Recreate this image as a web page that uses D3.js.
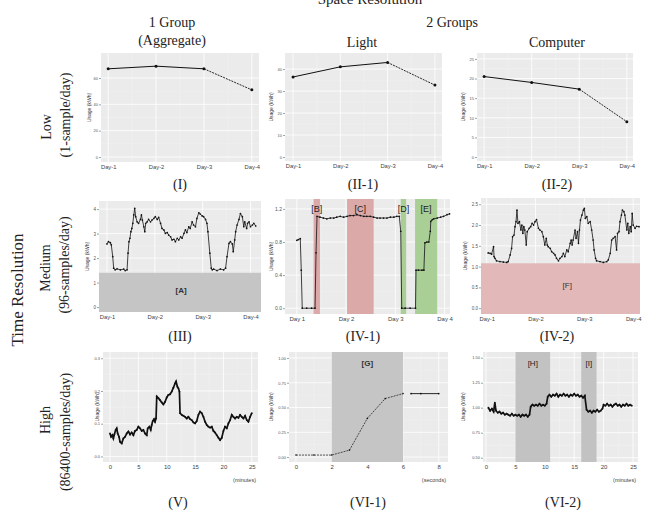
<!DOCTYPE html>
<html>
<head>
<meta charset="utf-8">
<script src="https://cdn.jsdelivr.net/npm/d3@7"></script>
<style>
body { margin: 0; background: #fff; }
text { font-family: "Liberation Serif", "DejaVu Serif", serif; }
.tick-lab { font-family: "Liberation Sans", Arial, sans-serif; fill: #555; }
.band-lab { font-family: "Liberation Sans", Arial, sans-serif; font-weight: bold; fill: #333; }
</style>
</head>
<body>
<div id="fig"></div>
<script>
// ---- data ----
let dayLabels = ["Day-1", "Day-2", "Day-3", "Day-4"];
let dayLabelsSpace = ["Day 1", "Day 2", "Day 3", "Day 4"];

// low resolution, one value per day (kWh)
let aggDaily = [67, 69, 67, 51];
let lightDaily = [36.4, 41, 43, 32.7];
let compDaily = [20.5, 19, 17.3, 9];

// medium resolution [day, kWh]
let aggMedium = [[0,2.58],[0.03,2.67],[0.07,2.63],[0.09,2.54],[0.12,2.06],[0.14,1.59],[0.17,1.52],[0.21,1.56],[0.28,1.52],[0.35,1.55],[0.38,1.49],[0.42,1.52],[0.44,2.2],[0.46,2.67],[0.48,2.81],[0.5,3.08],[0.52,3.21],[0.54,3.42],[0.56,3.76],[0.58,4.03],[0.6,3.69],[0.63,3.48],[0.66,3.42],[0.7,3.58],[0.72,3.76],[0.74,3.55],[0.77,3.28],[0.79,3.08],[0.81,3.42],[0.84,3.48],[0.87,3.58],[0.91,3.48],[0.94,3.55],[0.98,3.62],[1.01,3.69],[1.05,3.58],[1.08,3.66],[1.12,3.42],[1.15,3.21],[1.19,3.15],[1.22,3.01],[1.26,3.04],[1.29,2.94],[1.33,2.87],[1.36,2.74],[1.4,2.77],[1.43,2.67],[1.47,2.81],[1.5,2.74],[1.54,2.87],[1.57,2.81],[1.61,3.01],[1.64,3.15],[1.67,3.04],[1.71,3.28],[1.74,3.21],[1.78,3.48],[1.81,3.35],[1.85,3.28],[1.88,3.62],[1.92,3.85],[1.95,3.8],[1.99,3.72],[2.02,3.69],[2.06,3.58],[2.09,3.42],[2.11,3.08],[2.15,2.2],[2.18,1.59],[2.2,1.52],[2.23,1.55],[2.3,1.49],[2.37,1.55],[2.44,1.52],[2.48,1.59],[2.51,2.06],[2.55,2.6],[2.58,2.67],[2.62,2.58],[2.64,2.26],[2.67,2.74],[2.69,3.08],[2.72,3.35],[2.76,3.58],[2.79,3.82],[2.83,3.69],[2.86,3.28],[2.88,3.48],[2.92,3.21],[2.94,3.42],[2.97,3.48],[3.0,3.28],[3.04,3.35],[3.07,3.42],[3.11,3.31]];

let lightMedium = [[0,0.82],[0.03,0.83],[0.07,0.84],[0.09,0.46],[0.11,0],[0.2,0],[0.3,0],[0.37,0],[0.39,0.67],[0.41,1.11],[0.47,1.1],[0.54,1.09],[0.61,1.08],[0.68,1.09],[0.75,1.09],[0.81,1.1],[0.88,1.11],[0.95,1.1],[1.02,1.11],[1.08,1.12],[1.15,1.12],[1.22,1.13],[1.29,1.12],[1.36,1.11],[1.42,1.11],[1.49,1.11],[1.56,1.1],[1.63,1.09],[1.69,1.09],[1.76,1.09],[1.83,1.09],[1.9,1.1],[1.97,1.1],[2.03,1.11],[2.08,1.11],[2.11,0.93],[2.13,0],[2.2,0],[2.3,0],[2.41,0],[2.42,0.46],[2.47,0.46],[2.54,0.46],[2.58,0.46],[2.6,0.79],[2.64,0.8],[2.68,0.8],[2.71,0.93],[2.72,1.05],[2.75,1.07],[2.78,1.08],[2.85,1.09],[2.92,1.1],[2.98,1.11],[3.05,1.13],[3.1,1.14]];

let compMedium = [[0.03,1.33],[0.07,1.32],[0.1,1.3],[0.14,1.48],[0.15,1.24],[0.17,1.2],[0.2,1.14],[0.27,1.12],[0.34,1.11],[0.41,1.1],[0.44,1.12],[0.48,1.28],[0.51,1.44],[0.53,1.72],[0.56,1.76],[0.58,1.96],[0.6,2.08],[0.62,2.36],[0.64,2.04],[0.67,2.08],[0.7,1.88],[0.72,2.0],[0.74,1.8],[0.76,1.96],[0.78,1.88],[0.81,1.52],[0.83,1.84],[0.87,1.92],[0.9,1.96],[0.93,2.04],[0.96,2.0],[0.99,2.08],[1.02,2.13],[1.06,1.92],[1.09,1.88],[1.13,1.84],[1.16,1.72],[1.19,1.52],[1.22,1.68],[1.24,1.52],[1.26,1.48],[1.3,1.44],[1.33,1.36],[1.37,1.32],[1.4,1.28],[1.43,1.2],[1.47,1.14],[1.5,1.2],[1.54,1.24],[1.57,1.32],[1.6,1.24],[1.64,1.4],[1.67,1.36],[1.71,1.56],[1.73,1.64],[1.75,1.52],[1.77,1.64],[1.81,1.88],[1.83,1.68],[1.86,1.84],[1.88,1.56],[1.9,1.88],[1.92,2.12],[1.95,2.24],[1.98,2.36],[2.0,2.4],[2.02,2.16],[2.05,2.2],[2.08,2.04],[2.12,2.08],[2.15,1.88],[2.18,1.64],[2.2,1.4],[2.23,1.2],[2.25,1.14],[2.32,1.12],[2.39,1.1],[2.46,1.12],[2.49,1.16],[2.53,1.32],[2.56,1.64],[2.59,1.68],[2.63,1.72],[2.66,1.4],[2.68,1.8],[2.71,1.84],[2.73,2.08],[2.76,2.24],[2.78,2.36],[2.81,2.32],[2.83,2.24],[2.87,1.88],[2.89,2.04],[2.91,1.8],[2.94,1.96],[2.96,1.84],[2.98,2.28],[3.0,2.0],[3.04,1.92],[3.07,1.97],[3.12,1.96]];

// high resolution
let aggHigh = [[0,0.07],[0.18,0.06],[0.41,0.065],[0.59,0.055],[0.76,0.067],[1.0,0.081],[1.18,0.086],[1.35,0.07],[1.59,0.06],[1.76,0.045],[2.06,0.04],[2.35,0.055],[2.65,0.06],[2.94,0.07],[3.24,0.076],[3.53,0.067],[3.82,0.073],[4.12,0.065],[4.41,0.078],[4.71,0.081],[5.0,0.091],[5.29,0.086],[5.59,0.078],[5.88,0.081],[6.18,0.07],[6.47,0.065],[6.65,0.086],[6.94,0.091],[7.18,0.081],[7.35,0.096],[7.53,0.108],[7.76,0.114],[7.94,0.106],[8.12,0.116],[8.24,0.183],[8.53,0.178],[8.82,0.172],[9.12,0.165],[9.41,0.159],[9.71,0.167],[10.0,0.18],[10.29,0.188],[10.59,0.19],[10.88,0.198],[11.18,0.21],[11.47,0.223],[11.65,0.229],[11.88,0.213],[12.06,0.208],[12.24,0.198],[12.35,0.132],[12.65,0.127],[12.94,0.124],[13.24,0.121],[13.53,0.116],[13.82,0.121],[14.12,0.114],[14.41,0.111],[14.71,0.104],[15.0,0.101],[15.29,0.108],[15.59,0.127],[15.88,0.137],[16.18,0.132],[16.47,0.121],[16.76,0.106],[17.06,0.096],[17.35,0.091],[17.65,0.088],[17.94,0.091],[18.24,0.078],[18.53,0.073],[18.82,0.065],[19.12,0.057],[19.41,0.05],[19.71,0.057],[20.0,0.078],[20.29,0.091],[20.59,0.086],[20.88,0.101],[21.18,0.111],[21.47,0.127],[21.76,0.121],[22.06,0.116],[22.35,0.121],[22.65,0.118],[22.94,0.127],[23.24,0.121],[23.53,0.116],[23.82,0.124],[24.12,0.111],[24.41,0.106],[24.71,0.121],[25.0,0.132]];

let lightHighA = [[0,0.02],[1,0.02],[2,0.02],[3,0.07],[4,0.39],[5,0.59],[6,0.64]];
let lightHighB = [[6.45,0.64],[7,0.64],[8,0.64]];

let compHigh = [[0.4,1.0],[0.7,0.97],[1.0,0.99],[1.3,0.96],[1.5,1.05],[1.7,0.97],[2.0,0.95],[2.3,0.96],[2.6,0.94],[2.9,0.95],[3.2,0.93],[3.5,0.94],[3.8,0.93],[4.1,0.92],[4.4,0.94],[4.7,0.92],[5.0,0.93],[5.3,0.92],[5.6,0.93],[5.9,0.91],[6.2,0.93],[6.5,0.92],[6.8,0.93],[7.1,0.91],[7.4,0.93],[7.6,1.01],[7.9,1.03],[8.2,1.02],[8.5,1.03],[8.8,1.02],[9.1,1.04],[9.4,1.02],[9.7,1.03],[10.0,1.02],[10.3,1.04],[10.5,1.11],[10.8,1.13],[11.1,1.11],[11.4,1.13],[11.7,1.12],[12.0,1.14],[12.3,1.11],[12.6,1.13],[12.9,1.12],[13.2,1.14],[13.5,1.12],[13.8,1.13],[14.1,1.11],[14.4,1.13],[14.7,1.12],[15.0,1.14],[15.3,1.12],[15.6,1.13],[15.9,1.11],[16.2,1.12],[16.5,1.1],[16.8,1.12],[17.1,0.98],[17.4,0.96],[17.7,0.97],[18.0,0.95],[18.3,0.97],[18.6,0.96],[18.9,0.98],[19.2,0.96],[19.5,0.97],[19.8,0.99],[20.0,1.03],[20.3,1.02],[20.6,1.04],[20.9,1.02],[21.2,1.03],[21.5,1.01],[21.8,1.03],[22.1,1.04],[22.4,1.02],[22.7,1.03],[23.0,1.01],[23.3,1.03],[23.6,1.02],[23.9,1.04],[24.2,1.02],[24.5,1.03],[24.8,1.02]];

// highlighted regions
let bandsLightMed = [
  {from: 0.34, to: 0.47, label: "[B]", kind: "red"},
  {from: 1.02, to: 1.56, label: "[C]", kind: "red"},
  {from: 2.11, to: 2.22, label: "[D]", kind: "green"},
  {from: 2.40, to: 2.85, label: "[E]", kind: "green"}
];
let bandsLightHigh = [{from: 2, to: 6, label: "[G]"}];
let bandsCompHigh = [{from: 5.0, to: 10.9, label: "[H]"}, {from: 16.2, to: 18.8, label: "[I]"}];
let aggMedCut = 1.4;   // [A]
let compMedCut = 1.08; // [F]

let ticksAggLow = [0, 20, 40, 60];
let ticksLightLow = [0, 10, 20, 30, 40];
let ticksCompLow = [0, 5, 10, 15, 20, 25];
let ticksAggMed = [0, 1, 2, 3, 4];
let ticksLightMed = [0, 0.4, 0.8, 1.2];
let ticksCompMed = [0, 0.5, 1.0, 1.5, 2.0, 2.5];
let ticksAggHigh = [0, 0.1, 0.2, 0.3];
let ticksLightHigh = [0, 0.25, 0.5, 0.75, 1.0];
let ticksCompHigh = [0.5, 0.75, 1.0, 1.25, 1.5];
let minuteTicks = [0, 5, 10, 15, 20, 25];
let secondTicks = [0, 2, 4, 6, 8];

// ---- drawing ----
let width = 651, height = 512;
let svg = d3.select("#fig").append("svg")
  .attr("width", width).attr("height", height);

let bandColor = {red: "#dca9a9", green: "#a9cf97", gray: "#c5c5c5"};

function panel(p) {
  let x = d3.scaleLinear().domain(p.xd).range([p.box[0], p.box[2]]);
  let y = d3.scaleLinear().domain(p.yd).range([p.box[3], p.box[1]]);
  let g = svg.append("g");
  g.append("rect")
    .attr("x", p.box[0]).attr("y", p.box[1])
    .attr("width", p.box[2] - p.box[0]).attr("height", p.box[3] - p.box[1])
    .attr("fill", "#ebebeb");

  // minor + major grid
  let yt = p.yTicks;
  let minorY = [];
  for (let i = 0; i < yt.length - 1; i++) minorY.push((yt[i] + yt[i + 1]) / 2);
  let xt = p.xTicks;
  let minorX = [];
  for (let i = 0; i < xt.length - 1; i++) minorX.push((xt[i] + xt[i + 1]) / 2);
  g.selectAll(".mny").data(minorY).enter().append("line")
    .attr("x1", p.box[0]).attr("x2", p.box[2])
    .attr("y1", d => y(d)).attr("y2", d => y(d))
    .attr("stroke", "#f6f6f6").attr("stroke-width", 0.4);
  g.selectAll(".mnx").data(minorX).enter().append("line")
    .attr("y1", p.box[1]).attr("y2", p.box[3])
    .attr("x1", d => x(d)).attr("x2", d => x(d))
    .attr("stroke", "#f6f6f6").attr("stroke-width", 0.4);
  g.selectAll(".mjy").data(yt).enter().append("line")
    .attr("x1", p.box[0]).attr("x2", p.box[2])
    .attr("y1", d => y(d)).attr("y2", d => y(d))
    .attr("stroke", "#fff").attr("stroke-width", 0.8);
  g.selectAll(".mjx").data(xt).enter().append("line")
    .attr("y1", p.box[1]).attr("y2", p.box[3])
    .attr("x1", d => x(d)).attr("x2", d => x(d))
    .attr("stroke", "#fff").attr("stroke-width", 0.8);

  if (p.extra) p.extra(g, x, y);

  // y axis
  let ya = d3.axisLeft(y).tickValues(yt).tickSize(2).tickPadding(1).tickFormat(p.yFmt);
  let yg = g.append("g").attr("transform", "translate(" + p.box[0] + ",0)").call(ya);
  yg.select(".domain").remove();
  yg.selectAll("line").attr("stroke", "#444").attr("stroke-width", 0.5);
  yg.selectAll("text").attr("class", "tick-lab").style("font-size", p.yFont + "px");

  // x axis
  let xa = d3.axisBottom(x).tickValues(xt).tickSize(p.xTickLen || 0).tickPadding(3)
    .tickFormat((d, i) => p.xLabels ? p.xLabels[i] : d);
  let xg = g.append("g").attr("transform", "translate(0," + p.box[3] + ")").call(xa);
  xg.select(".domain").remove();
  xg.selectAll("line").attr("stroke", "#444").attr("stroke-width", 0.5);
  xg.selectAll("text").attr("class", "tick-lab").style("font-size", p.xFont + "px").style("fill", "#444");

  // y title
  g.append("text")
    .attr("transform", "translate(" + p.titleX + "," + ((p.box[1] + p.box[3]) / 2) + ") rotate(-90)")
    .attr("text-anchor", "middle")
    .attr("class", "tick-lab")
    .style("font-size", "5px").style("fill", "#333")
    .text("Usage (kWh)");

  if (p.unit) {
    g.append("text").attr("x", p.box[2] - 2).attr("y", p.box[3] + 20)
      .attr("text-anchor", "end").attr("class", "tick-lab")
      .style("font-size", "5.5px").style("fill", "#444").text(p.unit);
  }
  return {g: g, x: x, y: y};
}

function drawSeries(g, x, y, pts, w, r, dash) {
  let line = d3.line().x(d => x(d[0])).y(d => y(d[1]));
  g.append("path").datum(pts).attr("d", line)
    .attr("fill", "none").attr("stroke", "#111").attr("stroke-width", w)
    .attr("stroke-dasharray", dash || null);
  if (r > 0) {
    g.selectAll(null).data(pts).enter().append("circle")
      .attr("cx", d => x(d[0])).attr("cy", d => y(d[1])).attr("r", r).attr("fill", "#111");
  }
}

function lowPanel(vals, box, xd, yd, ticks, titleX) {
  let p = panel({box: box, xd: xd, yd: yd, yTicks: ticks, yFmt: d3.format("d"), yFont: 4,
    xTicks: [0, 1, 2, 3], xLabels: dayLabels, xFont: 5.8, titleX: titleX});
  let pts = vals.map((v, i) => [i, v]);
  drawSeries(p.g, p.x, p.y, pts.slice(0, 3), 1, 0);
  drawSeries(p.g, p.x, p.y, pts.slice(2), 0.9, 0, "2,1");
  p.g.selectAll(null).data(pts).enter().append("circle")
    .attr("cx", d => p.x(d[0])).attr("cy", d => p.y(d[1])).attr("r", 1.5).attr("fill", "#111");
}

// row 1: low resolution
lowPanel(aggDaily, [101, 53, 259, 162], [-0.15, 3.15], [-3.8, 79], ticksAggLow, 91);
lowPanel(lightDaily, [285, 53, 442, 161], [-0.17, 3.15], [-1.8, 47.3], ticksLightLow, 273);
lowPanel(compDaily, [477, 53, 633, 161], [-0.15, 3.13], [-1, 26.5], ticksCompLow, 465);

// row 2: medium resolution
panel({box: [99, 201, 261, 312], xd: [-0.167, 3.22], yd: [-0.2, 4.33], yTicks: ticksAggMed,
  yFmt: d3.format("d"), yFont: 4.5, xTicks: [0, 1, 2, 3], xLabels: dayLabels, xFont: 5.8, titleX: 89,
  extra: function(g, x, y) {
    g.append("rect").attr("x", x.range()[0]).attr("width", x.range()[1] - x.range()[0])
      .attr("y", y(aggMedCut)).attr("height", y(y.domain()[0]) - y(aggMedCut)).attr("fill", bandColor.gray);
    g.append("text").attr("class", "band-lab").attr("x", x(1.55)).attr("y", y(0.7) + 3)
      .attr("text-anchor", "middle").style("font-size", "8px").text("[A]");
    drawSeries(g, x, y, aggMedium, 0.8, 0.85);
  }});

panel({box: [285, 199, 450, 314], xd: [-0.24, 3.11], yd: [-0.07, 1.32], yTicks: ticksLightMed,
  yFmt: d3.format(".1f"), yFont: 5, xTicks: [0, 1, 2, 3], xLabels: dayLabelsSpace, xFont: 6, titleX: 273,
  extra: function(g, x, y) {
    bandsLightMed.forEach(function(b) {
      g.append("rect").attr("x", x(b.from)).attr("width", x(b.to) - x(b.from))
        .attr("y", y.range()[1]).attr("height", y.range()[0] - y.range()[1])
        .attr("fill", bandColor[b.kind]);
    });
    drawSeries(g, x, y, lightMedium, 0.8, 0.85);
    g.selectAll(null).data(bandsLightMed).enter().append("text")
      .attr("class", "band-lab").style("font-weight", "normal").style("fill", "#222")
      .attr("x", d => x((d.from + d.to) / 2)).attr("y", y(1.2) + 3.5)
      .attr("text-anchor", "middle").style("font-size", "9px").text(d => d.label);
  }});

panel({box: [481, 198, 640, 314], xd: [-0.117, 3.14], yd: [-0.14, 2.65], yTicks: ticksCompMed,
  yFmt: d3.format(".1f"), yFont: 4.5, xTicks: [0, 1, 2, 3], xLabels: dayLabels, xFont: 5.8, titleX: 467,
  extra: function(g, x, y) {
    g.append("rect").attr("x", x.range()[0]).attr("width", x.range()[1] - x.range()[0])
      .attr("y", y(compMedCut)).attr("height", y(y.domain()[0]) - y(compMedCut)).attr("fill", "#e3b8b8");
    g.append("text").attr("class", "band-lab").style("font-weight", "normal")
      .attr("x", x(1.65)).attr("y", y(0.55) + 3)
      .attr("text-anchor", "middle").style("font-size", "8px").text("[F]");
    drawSeries(g, x, y, compMedium, 0.8, 0.85);
  }});

// row 3: high resolution
panel({box: [103, 352, 258, 462], xd: [-1.24, 26.1], yd: [-0.017, 0.319], yTicks: ticksAggHigh,
  yFmt: d3.format(".1f"), yFont: 4, xTicks: minuteTicks, xFont: 6, titleX: 99, unit: "(minutes)",
  extra: function(g, x, y) {
    drawSeries(g, x, y, aggHigh, 1.7, 0.9);
  }});

panel({box: [289, 352, 448, 462], xd: [-0.39, 8.52], yd: [-0.05, 1.06], yTicks: ticksLightHigh,
  yFmt: d3.format(".2f"), yFont: 4, xTicks: secondTicks, xFont: 6, titleX: 273, unit: "(seconds)",
  extra: function(g, x, y) {
    bandsLightHigh.forEach(function(b) {
      g.append("rect").attr("x", x(b.from)).attr("width", x(b.to) - x(b.from))
        .attr("y", y.range()[1]).attr("height", y.range()[0] - y.range()[1]).attr("fill", bandColor.gray);
      g.append("text").attr("class", "band-lab").attr("x", x((b.from + b.to) / 2)).attr("y", y(0.95) + 3)
        .attr("text-anchor", "middle").style("font-size", "8px").text(b.label);
    });
    drawSeries(g, x, y, lightHighA, 0.7, 0.8, "2,1");
    drawSeries(g, x, y, lightHighB, 0.9, 0.9);
  }});

panel({box: [483, 352, 638, 462], xd: [-0.51, 25.85], yd: [0.457, 1.557], yTicks: ticksCompHigh,
  yFmt: d3.format(".2f"), yFont: 4, xTicks: minuteTicks, xFont: 6, titleX: 465, unit: "(minutes)",
  extra: function(g, x, y) {
    bandsCompHigh.forEach(function(b) {
      g.append("rect").attr("x", x(b.from)).attr("width", x(b.to) - x(b.from))
        .attr("y", y.range()[1]).attr("height", y.range()[0] - y.range()[1]).attr("fill", "#c2c2c2");
      g.append("text").attr("class", "band-lab").style("font-weight", "normal").style("fill", "#222")
        .attr("x", x((b.from + b.to) / 2)).attr("y", y(1.45) + 3)
        .attr("text-anchor", "middle").style("font-size", "8px").text(b.label);
    });
    drawSeries(g, x, y, compHigh, 1.7, 0.9);
  }});

// ---- figure headings ----
let headings = [
  {t: "Space Resolution", x: 370, y: 4, s: 15},
  {t: "1 Group", x: 172, y: 27, s: 14},
  {t: "(Aggregate)", x: 172, y: 45, s: 14},
  {t: "2 Groups", x: 452, y: 27, s: 14},
  {t: "Light", x: 362, y: 47, s: 14},
  {t: "Computer", x: 557, y: 47, s: 14},
  {t: "(I)", x: 180, y: 189, s: 14},
  {t: "(II-1)", x: 363, y: 189, s: 14},
  {t: "(II-2)", x: 557, y: 189, s: 14},
  {t: "(III)", x: 180, y: 341, s: 14},
  {t: "(IV-1)", x: 363, y: 341, s: 14},
  {t: "(IV-2)", x: 557, y: 341, s: 14},
  {t: "(V)", x: 178, y: 507, s: 14},
  {t: "(VI-1)", x: 368, y: 507, s: 14},
  {t: "(VI-2)", x: 563, y: 507, s: 14}
];
svg.selectAll(".hd").data(headings).enter().append("text")
  .attr("x", d => d.x).attr("y", d => d.y)
  .attr("text-anchor", "middle").style("font-size", d => d.s + "px").style("fill", "#222")
  .text(d => d.t);

let sideLabels = [
  {t: "Time Resolution", x: 23, y: 290, s: 17},
  {t: "Low", x: 51, y: 127, s: 14},
  {t: "(1-sample/day)", x: 70, y: 115, s: 14},
  {t: "Medium", x: 50, y: 268, s: 14},
  {t: "(96-samples/day)", x: 69, y: 265, s: 14},
  {t: "High", x: 50, y: 420, s: 14},
  {t: "(86400-samples/day)", x: 70, y: 432, s: 14}
];
svg.selectAll(".sd").data(sideLabels).enter().append("text")
  .attr("transform", d => "translate(" + d.x + "," + d.y + ") rotate(-90)")
  .attr("text-anchor", "middle").style("font-size", d => d.s + "px").style("fill", "#222")
  .text(d => d.t);
</script>
</body>
</html>
